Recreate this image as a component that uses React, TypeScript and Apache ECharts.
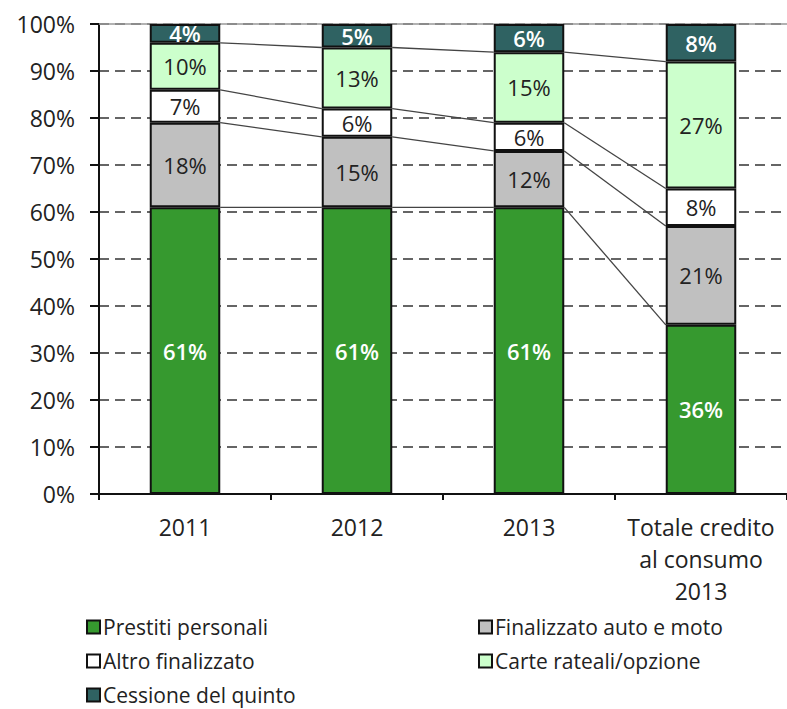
import React, { useEffect, useRef } from "react";
import * as echarts from "echarts";

const categories = ["2011", "2012", "2013", "Totale credito\nal consumo\n2013"];
const seriesNames = [
  "Prestiti personali",
  "Finalizzato auto e moto",
  "Altro finalizzato",
  "Carte rateali/opzione",
  "Cessione del quinto",
];
const prestiti = [61, 61, 61, 36];
const finalizzato = [18, 15, 12, 21];
const altro = [7, 6, 6, 8];
const carte = [10, 13, 15, 27];
const cessione = [4, 5, 6, 8];
const yTicks = [0, 10, 20, 30, 40, 50, 60, 70, 80, 90, 100];

const allValues = [prestiti, finalizzato, altro, carte, cessione];
const colors = ["#36992f", "#c0c0c0", "#ffffff", "#ccffcc", "#2f6262"];
const labelColors = ["#ffffff", "#222222", "#222222", "#222222", "#ffffff"];
const FONT = "Open Sans";
const BAR_RATIO = 0.41;

export default function App() {
  const ref = useRef<HTMLDivElement>(null);
  useEffect(() => {
    if (!ref.current) return;
    document.body.style.margin = "0";
    const chart = echarts.init(ref.current, null, { renderer: "svg" });

    const cum: number[][] = allValues.map(() => []);
    for (let c = 0; c < categories.length; c++) {
      let s = 0;
      for (let k = 0; k < allValues.length; k++) {
        s += allValues[k][c];
        cum[k][c] = s;
      }
    }
    const connectors: number[][] = [];
    for (let k = 0; k < allValues.length - 1; k++) {
      for (let c = 0; c < categories.length - 1; c++) {
        connectors.push([c, c + 1, cum[k][c], cum[k][c + 1]]);
      }
    }

    const barSeries = seriesNames.map((name, i) => ({
      name,
      type: "bar",
      stack: "total",
      barWidth: BAR_RATIO * 100 + "%",
      data: allValues[i],
      itemStyle: { color: colors[i], borderColor: "#111", borderWidth: 2 },
      label: {
        show: true,
        position: "inside",
        formatter: "{c}%",
        color: labelColors[i],
        fontFamily: FONT,
        fontSize: 22,
        fontWeight: i === 0 || i === 4 ? 600 : "normal",
      },
      emphasis: { disabled: true },
    }));

    const legendCommon = {
      orient: "vertical",
      top: 616,
      padding: 0,
      itemWidth: 13,
      itemHeight: 13,
      itemGap: 12,
      icon: "rect",
      itemStyle: { borderColor: "#111", borderWidth: 2 },
      textStyle: { color: "#222", fontSize: 21, fontFamily: FONT, lineHeight: 22, padding: [0, 0, 0, -2] },
      selectedMode: false,
    };

    const option: any = {
      animation: false,
      textStyle: { fontFamily: FONT },
      grid: { left: 99, top: 24, bottom: 215, right: -9, containLabel: false },
      xAxis: [
        {
          type: "category",
          data: categories,
          axisLine: { show: true, lineStyle: { color: "#111", width: 2 } },
          axisTick: { show: true, alignWithLabel: false, length: 6, lineStyle: { color: "#111", width: 2 } },
          axisLabel: {
            color: "#222",
            fontSize: 23,
            lineHeight: 32,
            margin: 17,
            fontFamily: FONT,
            interval: 0,
          },
        },
        {
          type: "category",
          position: "top",
          data: categories,
          axisLine: { show: true, lineStyle: { color: "#999", width: 1.5 } },
          axisTick: { show: false },
          axisLabel: { show: false },
        },
      ],
      yAxis: {
        type: "value",
        min: 0,
        max: 100,
        interval: 10,
        axisLine: { show: true, lineStyle: { color: "#111", width: 2 } },
        axisTick: { show: true, inside: false, length: 9, lineStyle: { color: "#111", width: 2 } },
        axisLabel: {
          formatter: (v: number) => (yTicks.includes(v) ? v + "%" : ""),
          color: "#222",
          fontSize: 23,
          margin: 24,
          fontFamily: FONT,
        },
        splitLine: {
          show: true,
          lineStyle: { color: "#333", width: 1.5, type: [10, 6] },
        },
      },
      legend: [
        { ...legendCommon, data: [seriesNames[0], seriesNames[2], seriesNames[4]], left: 86 },
        { ...legendCommon, data: [seriesNames[1], seriesNames[3]], left: 478 },
      ],
      series: [
        ...barSeries,
        {
          type: "custom",
          name: "connectors",
          silent: true,
          z: 1,
          data: connectors,
          encode: { x: 0, y: 2 },
          renderItem: (params: any, api: any) => {
            const p1 = api.coord([api.value(0), api.value(2)]);
            const p2 = api.coord([api.value(1), api.value(3)]);
            const half = (api.size([1, 0])[0] * BAR_RATIO) / 2;
            return {
              type: "line",
              shape: { x1: p1[0] + half, y1: p1[1], x2: p2[0] - half, y2: p2[1] },
              style: { stroke: "#444", lineWidth: 1.3 },
            };
          },
        },
      ],
    };
    chart.setOption(option);
    return () => chart.dispose();
  }, []);
  return <div ref={ref} style={{ width: 787, height: 709 }} />;
}
